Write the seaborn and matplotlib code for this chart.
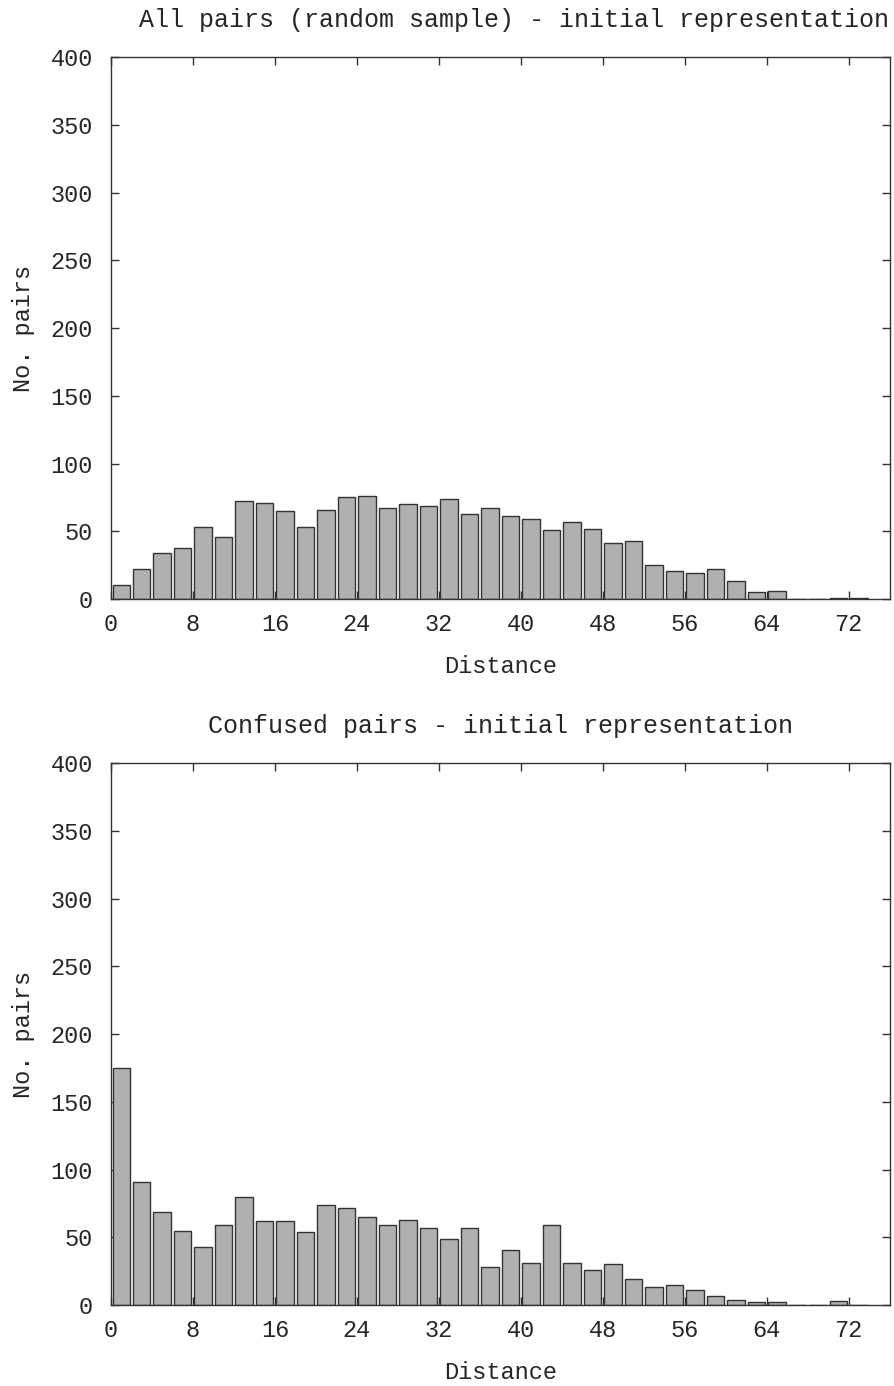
import numpy as np
import pandas as pd
import matplotlib
matplotlib.use("Agg")
import matplotlib.pyplot as plt
import seaborn as sns

# DATA
distance=list(range(0,74,2))
all_pairs=[10,22,34,38,53,46,72,71,65,53,66,75,76,67,70,69,74,63,67,
           61,59,51,57,52,41,43,25,21,19,22,13,5,6,0,0,1,1]
confused_pairs=[175,91,69,55,43,59,80,62,62,54,74,72,65,59,63,57,49,57,28,
                41,31,59,31,26,30,19,13,15,11,7,4,2,2,0,0,3,0]
titles=["All pairs (random sample) - initial representation",
        "Confused pairs - initial representation"]
xticks=list(range(0,80,8))
yticks=list(range(0,450,50))

sns.set_theme(style="ticks")
plt.rcParams["font.family"]=["Liberation Mono","DejaVu Sans Mono"]

fig=plt.figure(figsize=(8.95,13.86),dpi=100)
ax1=fig.add_axes([0.124,0.5678,0.870,0.391])
ax2=fig.add_axes([0.124,0.0584,0.870,0.391])

# top title sits a bit right of centre in the original
title_x=[0.518,0.5]

for ax,counts,title,tx in zip([ax1,ax2],[all_pairs,confused_pairs],titles,title_x):
    df=pd.DataFrame({"Distance":distance,"count":counts})
    sns.histplot(data=df,x="Distance",weights="count",binwidth=2,binrange=(0,74),
                 shrink=0.85,color="#b0b0b0",edgecolor="#333333",linewidth=1.0,
                 alpha=1.0,ax=ax)
    ax.set_xlim(0,76)
    ax.set_ylim(0,400)
    ax.set_xticks(xticks)
    ax.set_yticks(yticks)
    ax.tick_params(direction="in",top=True,right=True,length=6,width=1,
                   color="#333333",labelsize=17)
    ax.tick_params(axis="x",pad=10)
    ax.tick_params(axis="y",pad=13)
    for s in ax.spines.values():
        s.set_visible(True)
        s.set_color("#333333")
        s.set_linewidth(1)
    ax.set_xlabel("Distance",fontsize=17,labelpad=14)
    ax.set_ylabel("No. pairs",fontsize=17,labelpad=11)
    ax.set_title(title,fontsize=18,pad=22,x=tx)

plt.savefig("out.png",dpi=100)
plt.close()
